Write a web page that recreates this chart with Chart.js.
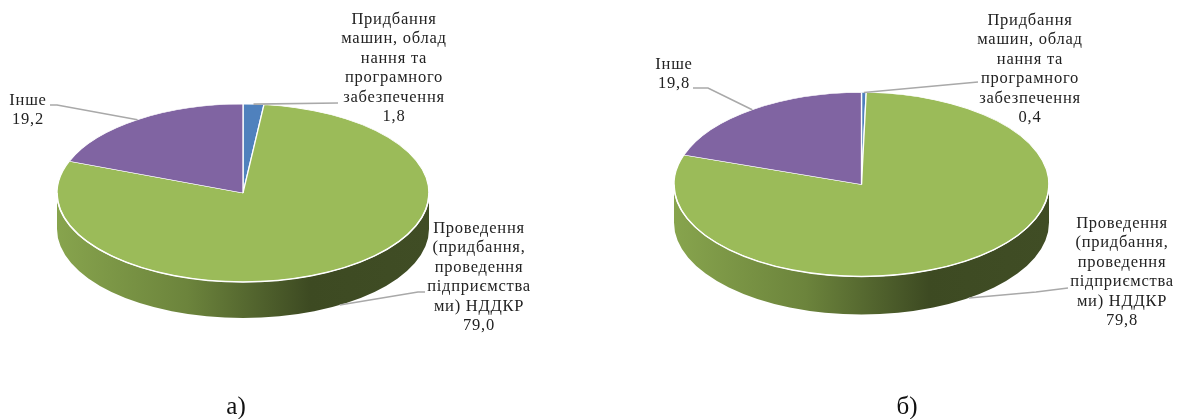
<!DOCTYPE html>
<html>
<head>
<meta charset="utf-8">
<script src="https://cdn.jsdelivr.net/npm/chart.js@4/dist/chart.umd.min.js"></script>
<style>
    html, body { margin: 0; padding: 0; background: #fff; width: 1179px; height: 419px; overflow: hidden; }
    canvas { position: absolute; top: 0; }
    #chartA { left: 0; }
    #chartB { left: 600px; }
    .lbl {
        position: absolute;
        transform: translateX(-50%);
        text-align: center;
        white-space: nowrap;
        font-family: "Liberation Serif", serif;
        font-size: 16.5px;
        letter-spacing: 0.75px;
        line-height: 19.4px;
        color: #222;
    }
    .cap {
        position: absolute;
        transform: translateX(-50%);
        font-family: "Liberation Serif", serif;
        font-size: 25px;
        line-height: 28px;
        color: #111;
    }
</style>
</head>
<body>
<canvas id="chartA" width="600" height="419"></canvas>
<canvas id="chartB" width="579" height="419"></canvas>

<script>
// ============================
// Data
// ============================
const categories = [
    "Придбання\nмашин, облад\nнання та\nпрограмного\nзабезпечення",
    "Проведення\n(придбання,\nпроведення\nпідприємства\nми) НДДКР",
    "Інше"
];
const valuesA = [1.8, 79.0, 19.2];
const valuesB = [0.4, 79.8, 19.8];
const sliceColors = ["#4f81bd", "#9bbb59", "#8064a2"];

// ============================
// Layout of the two pies
// ============================
const layoutA = {
    radius: 186, squash: 89 / 186, depth: 36, padRight: 114, padBottom: 33, left: 0,
    // where each leader line ends, and where its label sits
    leaders: [[[338, 103]], [[418, 292], [425, 292]], [[57, 105], [50, 105]]],
    labels: [[394, 9], [479, 218], [28, 90]],
    caption: ["а)", 236, 392]
};
const layoutB = {
    radius: 187.5, squash: 92 / 187.5, depth: 38, padRight: 56, padBottom: 50, left: 600,
    leaders: [[[978, 82]], [[1036, 292], [1068, 288]], [[708, 88], [693, 88]]],
    labels: [[1030, 10], [1122, 213], [674, 54]],
    caption: ["б)", 907, 392]
};

// ============================
// Fake 3D: side wall, squashed top, leader lines
// ============================
const pie3d = {
    id: "pie3d",
    beforeDatasetsDraw(chart, args, opts) {
        const ctx = chart.ctx;
        const first = chart.getDatasetMeta(0).data[0];
        const cx = first.x, cy = first.y, rx = opts.radius, ry = rx * opts.squash;

        const wall = ctx.createLinearGradient(cx - rx, 0, cx + rx, 0);
        wall.addColorStop(0, "#87a44d");
        wall.addColorStop(0.35, "#6c843c");
        wall.addColorStop(0.68, "#3d4a22");
        wall.addColorStop(1, "#404d25");

        ctx.save();
        ctx.beginPath();
        ctx.ellipse(cx, cy, rx, ry, 0, 0, Math.PI);
        ctx.lineTo(cx - rx, cy + opts.depth);
        ctx.ellipse(cx, cy + opts.depth, rx, ry, 0, Math.PI, 0, true);
        ctx.closePath();
        ctx.fillStyle = wall;
        ctx.fill();
        ctx.restore();

        ctx.save();
        ctx.translate(cx, cy);
        ctx.scale(1, opts.squash);
        ctx.translate(-cx, -cy);
    },
    afterDatasetsDraw(chart, args, opts) {
        const ctx = chart.ctx;
        ctx.restore();

        const arcs = chart.getDatasetMeta(0).data;
        const cx = arcs[0].x, cy = arcs[0].y, rx = opts.radius, ry = rx * opts.squash;

        // white rim along the front edge
        ctx.save();
        ctx.beginPath();
        ctx.ellipse(cx, cy, rx, ry, 0, 0, Math.PI);
        ctx.strokeStyle = "#ffffff";
        ctx.lineWidth = 1.5;
        ctx.stroke();

        // leader lines start at the middle of each slice
        ctx.strokeStyle = "#a9a9a9";
        ctx.lineWidth = 1.6;
        arcs.forEach((arc, i) => {
            const mid = (arc.startAngle + arc.endAngle) / 2;
            const front = Math.sin(mid) > 0 ? opts.depth : 0;
            ctx.beginPath();
            ctx.moveTo(cx + rx * Math.cos(mid), cy + ry * Math.sin(mid) + front);
            opts.leaders[i].forEach(p => ctx.lineTo(p[0] - opts.left, p[1]));
            ctx.stroke();
        });
        ctx.restore();
    }
};

function addLabels(values, layout) {
    categories.forEach((name, i) => {
        const div = document.createElement("div");
        div.className = "lbl";
        div.style.left = layout.labels[i][0] + "px";
        div.style.top = layout.labels[i][1] + "px";
        div.innerText = name + "\n" + values[i].toFixed(1).replace(".", ",");
        document.body.appendChild(div);
    });
    const cap = document.createElement("div");
    cap.className = "cap";
    cap.textContent = layout.caption[0];
    cap.style.left = layout.caption[1] + "px";
    cap.style.top = layout.caption[2] + "px";
    document.body.appendChild(cap);
}

function drawPie(canvasId, values, layout) {
    new Chart(document.getElementById(canvasId), {
        type: "pie",
        data: {
            labels: categories,
            datasets: [{
                data: values,
                backgroundColor: sliceColors,
                borderColor: "#ffffff",
                borderWidth: 1.3,
                radius: layout.radius
            }]
        },
        options: {
            responsive: false,
            animation: false,
            layout: { padding: { right: layout.padRight, bottom: layout.padBottom } },
            plugins: {
                legend: { display: false },
                tooltip: { enabled: false },
                pie3d: layout
            }
        },
        plugins: [pie3d]
    });
    addLabels(values, layout);
}

drawPie("chartA", valuesA, layoutA);
drawPie("chartB", valuesB, layoutB);
</script>
</body>
</html>
